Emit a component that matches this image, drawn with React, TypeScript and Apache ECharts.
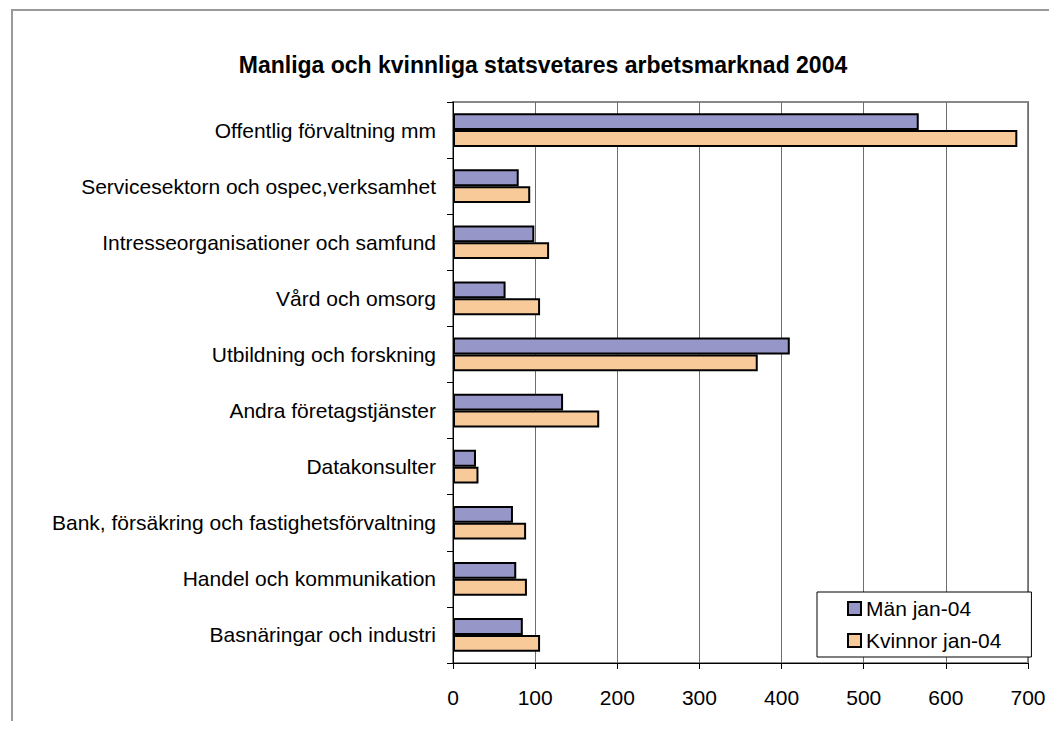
import React, { useEffect, useRef } from "react";
import * as echarts from "echarts";

const categories = [
  "Offentlig förvaltning mm",
  "Servicesektorn och ospec,verksamhet",
  "Intresseorganisationer och samfund",
  "Vård och omsorg",
  "Utbildning och forskning",
  "Andra företagstjänster",
  "Datakonsulter",
  "Bank, försäkring och fastighetsförvaltning",
  "Handel och kommunikation",
  "Basnäringar och industri",
];
const manValues = [567, 80, 99, 64, 410, 134, 28, 73, 77, 85];
const kvinnorValues = [687, 94, 117, 106, 371, 178, 31, 89, 90, 106];
const seriesNames = ["Män jan-04", "Kvinnor jan-04"];
const titleText = "Manliga och kvinnliga statsvetares arbetsmarknad 2004";

const FONT = "'Liberation Sans', Arial, sans-serif";

export default function App() {
  const ref = useRef<HTMLDivElement>(null);
  useEffect(() => {
    if (!ref.current) return;
    const chart = echarts.init(ref.current, null, { renderer: "svg" });
    chart.setOption({
      animation: false,
      backgroundColor: "#ffffff",
      textStyle: { fontFamily: FONT },
      title: {
        text: titleText,
        left: 530,
        top: 40,
        textAlign: "center",
        textStyle: { fontFamily: FONT, fontWeight: "bold", fontSize: 23, color: "#000" },
      },
      graphic: [
        {
          type: "polyline",
          shape: { points: [[4, 729], [4, 2], [1057, 2]] },
          style: { stroke: "#9a9a9a", lineWidth: 2, fill: "none" },
        },
      ],
      legend: {
        orient: "vertical",
        left: 809,
        top: 584,
        data: seriesNames,
        backgroundColor: "#fff",
        borderColor: "#000",
        borderWidth: 1,
        padding: [6, 30, 6, 30],
        itemGap: 11,
        itemWidth: 13,
        itemHeight: 13,
        icon: "rect",
        textStyle: { fontFamily: FONT, fontSize: 21, color: "#000" },
        z: 10,
      },
      grid: {
        left: 445,
        top: 94,
        right: 21,
        bottom: 58,
        containLabel: false,
        show: true,
        borderColor: "#888",
        borderWidth: 2,
        backgroundColor: "transparent",
      },
      xAxis: {
        type: "value",
        min: 0,
        max: 700,
        interval: 100,
        axisLine: { show: true, lineStyle: { color: "#000", width: 1 } },
        axisTick: { show: true, length: 6, lineStyle: { color: "#000" } },
        axisLabel: { fontFamily: FONT, fontSize: 21, color: "#000", margin: 24 },
        splitLine: { show: true, lineStyle: { color: "#6e6e6e", width: 1 } },
      },
      yAxis: {
        type: "category",
        data: categories,
        inverse: true,
        axisLine: { show: true, lineStyle: { color: "#000", width: 1 } },
        axisTick: { show: true, length: 6, alignWithLabel: false, lineStyle: { color: "#000" } },
        axisLabel: { fontFamily: FONT, fontSize: 21, color: "#000", margin: 17 },
      },
      series: [
        {
          name: seriesNames[0],
          type: "bar",
          data: manValues,
          barGap: "0%",
          barCategoryGap: "40%",
          itemStyle: { color: "#9696c8", borderColor: "#000", borderWidth: 2 },
        },
        {
          name: seriesNames[1],
          type: "bar",
          data: kvinnorValues,
          barGap: "0%",
          barCategoryGap: "40%",
          itemStyle: { color: "#f8ca9a", borderColor: "#000", borderWidth: 2 },
        },
      ],
    });
    return () => chart.dispose();
  }, []);
  return <div ref={ref} style={{ width: 1041, height: 713 }} />;
}
